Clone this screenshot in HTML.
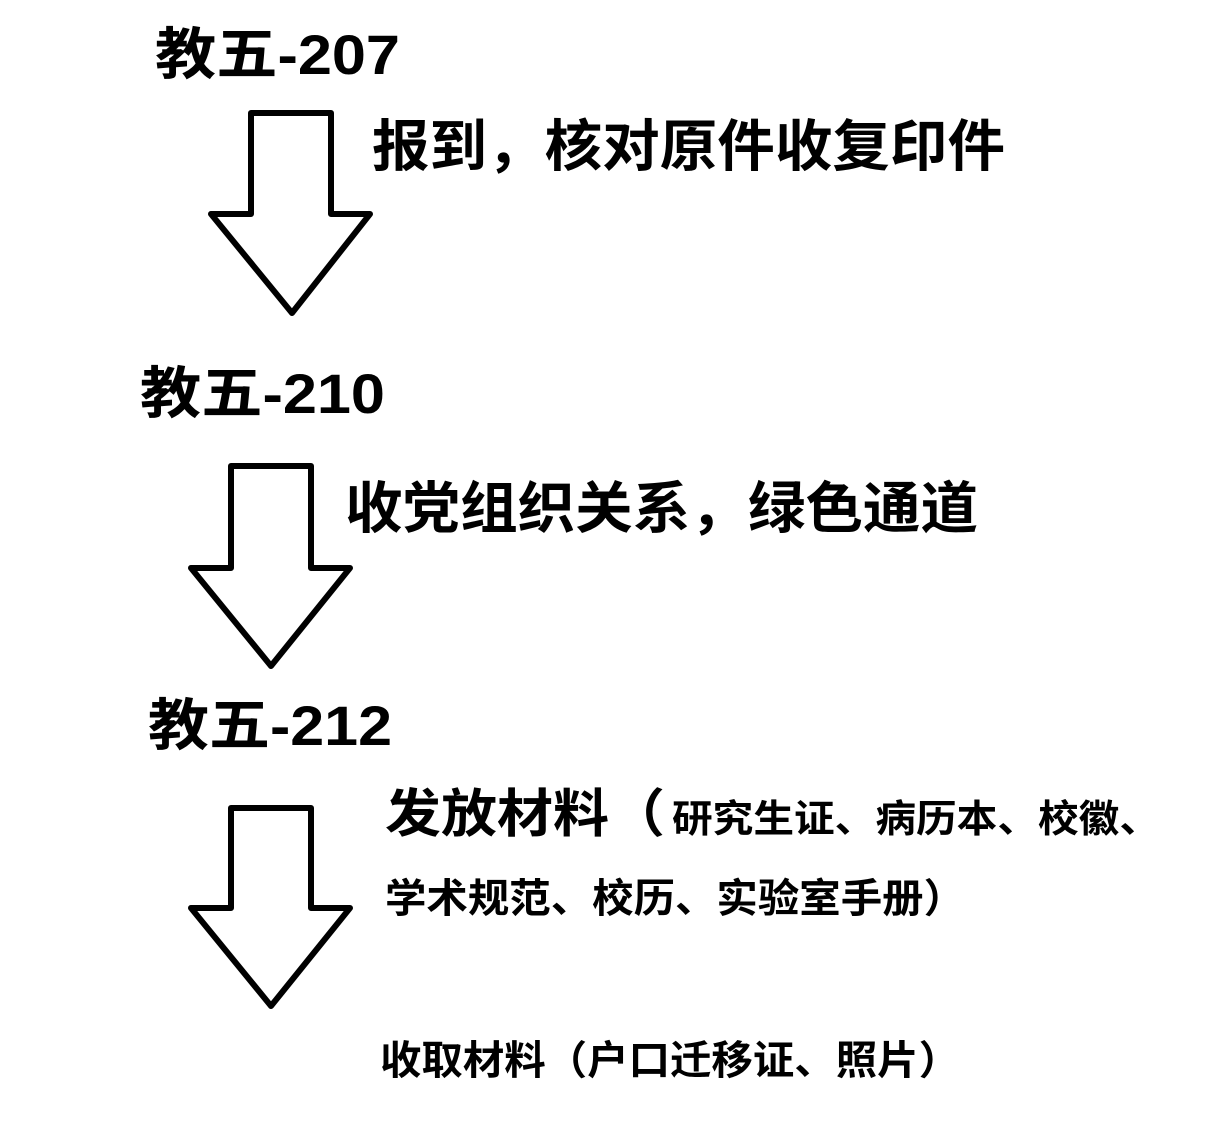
<!DOCTYPE html>
<html><head><meta charset="utf-8"><style>
html,body{margin:0;padding:0;background:#fff;}
svg{display:block}
text{font-family:"Liberation Sans","Noto Sans CJK SC",sans-serif;font-weight:bold;fill:#000;}
</style></head><body>
<svg width="1222" height="1139" viewBox="0 0 1222 1139" xmlns="http://www.w3.org/2000/svg">
<g fill="#fff" stroke="#000" stroke-width="6" stroke-linejoin="round">
<polygon points="251,113 331,113 331,214 370,214 292,313 211,214 251,214"/>
<polygon points="231,466 311,466 311,568 350,568 271,666 191,568 231,568"/>
<polygon points="231,808 311,808 311,908 350,908 271,1006 191,908 231,908"/>
</g>
<text x="155" y="74" font-size="56" textLength="245" lengthAdjust="spacingAndGlyphs">教五-207</text>
<text x="372" y="166" font-size="56" textLength="633" lengthAdjust="spacingAndGlyphs">报到，核对原件收复印件</text>
<text x="140" y="413" font-size="56" textLength="245" lengthAdjust="spacingAndGlyphs">教五-210</text>
<text x="345" y="528" font-size="56" textLength="633" lengthAdjust="spacingAndGlyphs">收党组织关系，绿色通道</text>
<text x="148" y="745" font-size="56" textLength="244" lengthAdjust="spacingAndGlyphs">教五-212</text>
<text x="385" y="832" font-size="52" textLength="280" lengthAdjust="spacingAndGlyphs">发放材料（</text>
<text x="672" y="832" font-size="38" textLength="488" lengthAdjust="spacingAndGlyphs">研究生证、病历本、校徽、</text>
<text x="385" y="912" font-size="40" textLength="580" lengthAdjust="spacingAndGlyphs">学术规范、校历、实验室手册）</text>
<text x="380" y="1074" font-size="40" textLength="580" lengthAdjust="spacingAndGlyphs">收取材料（户口迁移证、照片）</text>
</svg>
</body></html>
